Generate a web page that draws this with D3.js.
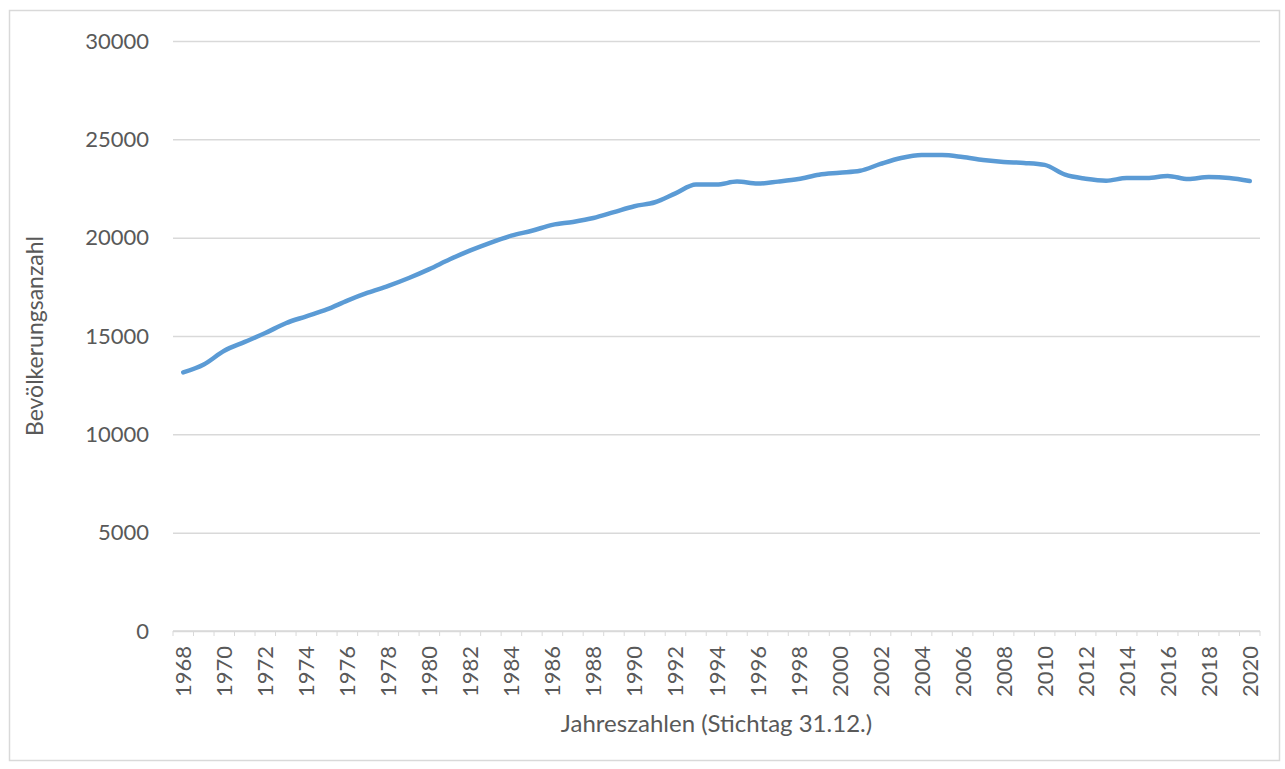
<!DOCTYPE html>
<html>
<head>
<meta charset="utf-8">
<script src="https://cdn.jsdelivr.net/npm/d3@7"></script>
<style>
	body { margin: 0; background: #ffffff; }
	text { font-family: Lato, "Open Sans", sans-serif; fill: #595959; }
</style>
</head>
<body>
<div id="chart"></div>
<script>

	///////////////////////////////////////////////////////////////////////////
	////////////////////////////////// Data ///////////////////////////////////
	///////////////////////////////////////////////////////////////////////////

	var years = [1968,1969,1970,1971,1972,1973,1974,1975,1976,1977,1978,1979,1980,
		1981,1982,1983,1984,1985,1986,1987,1988,1989,1990,1991,1992,1993,1994,1995,
		1996,1997,1998,1999,2000,2001,2002,2003,2004,2005,2006,2007,2008,2009,2010,
		2011,2012,2013,2014,2015,2016,2017,2018,2019,2020];

	var population = [13150,13550,14250,14700,15150,15650,16000,16350,16800,17200,17550,17950,18400,
		18900,19350,19750,20100,20350,20650,20800,21000,21300,21600,21800,22250,22700,22700,22850,
		22750,22850,22980,23200,23300,23400,23750,24050,24200,24200,24100,23950,23850,23800,23700,
		23200,23000,22900,23030,23030,23140,22980,23080,23030,22880];

	var yTicks = [0, 5000, 10000, 15000, 20000, 25000, 30000];

	///////////////////////////////////////////////////////////////////////////
	//////////////////// Set up and initiate svg containers ///////////////////
	///////////////////////////////////////////////////////////////////////////

	var width = 1285,
		height = 769;

	var margin = { top: 41, right: 25, bottom: 138, left: 173 };

	var svg = d3.select("#chart")
		.append("svg")
		.attr("width", width)
		.attr("height", height);

	//Outer chart frame
	svg.append("rect")
		.attr("x", 9.5)
		.attr("y", 10.5)
		.attr("width", 1270)
		.attr("height", 750)
		.style("fill", "none")
		.style("stroke", "#d9d9d9")
		.style("stroke-width", 1.5);

	var plotW = width - margin.left - margin.right,
		plotH = height - margin.top - margin.bottom;

	var g = svg.append("g")
		.attr("transform", "translate(" + margin.left + "," + margin.top + ")");

	///////////////////////////////////////////////////////////////////////////
	///////////////////////////////// Scales //////////////////////////////////
	///////////////////////////////////////////////////////////////////////////

	var x = d3.scaleBand()
		.domain(years)
		.range([0, plotW]);

	var y = d3.scaleLinear()
		.domain([0, 30000])
		.range([plotH, 0]);

	///////////////////////////////////////////////////////////////////////////
	////////////////////////////////// Axes ///////////////////////////////////
	///////////////////////////////////////////////////////////////////////////

	//Gridlines + y labels
	var yAxis = g.append("g")
		.call(d3.axisLeft(y).tickValues(yTicks).tickSize(-plotW).tickPadding(24).tickFormat(d3.format("d")));
	yAxis.select(".domain").remove();
	yAxis.selectAll(".tick line")
		.style("stroke", "#d9d9d9")
		.style("stroke-width", 1.5);
	yAxis.selectAll(".tick text")
		.style("font-family", "Lato, sans-serif")
		.style("font-size", "22px")
		.style("fill", "#595959");

	//X axis with small ticks between categories
	var xAxis = g.append("g")
		.attr("transform", "translate(0," + plotH + ")");

	xAxis.append("line")
		.attr("x1", 0)
		.attr("x2", plotW)
		.style("stroke", "#d9d9d9")
		.style("stroke-width", 1.5);

	xAxis.selectAll(".xtick")
		.data(years.concat([null]))
		.enter().append("line")
		.attr("class", "xtick")
		.attr("x1", function(d,i) { return i * x.step(); })
		.attr("x2", function(d,i) { return i * x.step(); })
		.attr("y1", 0)
		.attr("y2", 5)
		.style("stroke", "#d9d9d9")
		.style("stroke-width", 1);

	xAxis.selectAll(".xlabel")
		.data(years.filter(function(d) { return d % 2 === 0; }))
		.enter().append("text")
		.attr("class", "xlabel")
		.attr("transform", function(d) {
			return "translate(" + (x(d) + x.bandwidth()/2 + 8) + ",15) rotate(-90)";
		})
		.style("text-anchor", "end")
		.style("font-size", "22px")
		.text(function(d) { return d; });

	//Axis titles
	svg.append("text")
		.attr("x", margin.left + plotW/2)
		.attr("y", 732)
		.style("text-anchor", "middle")
		.style("font-size", "24px")
		.text("Jahreszahlen (Stichtag 31.12.)");

	svg.append("text")
		.attr("transform", "translate(43," + (margin.top + plotH/2) + ") rotate(-90)")
		.style("text-anchor", "middle")
		.style("font-size", "23px")
		.text("Bevölkerungsanzahl");

	///////////////////////////////////////////////////////////////////////////
	////////////////////////////////// Line ///////////////////////////////////
	///////////////////////////////////////////////////////////////////////////

	var line = d3.line()
		.x(function(d,i) { return x(years[i]) + x.bandwidth()/2; })
		.y(function(d) { return y(d); })
		.curve(d3.curveMonotoneX);

	g.append("path")
		.datum(population)
		.attr("d", line)
		.style("fill", "none")
		.style("stroke", "#5b9bd5")
		.style("stroke-width", 4.5)
		.style("stroke-linejoin", "round")
		.style("stroke-linecap", "round");

</script>
</body>
</html>
